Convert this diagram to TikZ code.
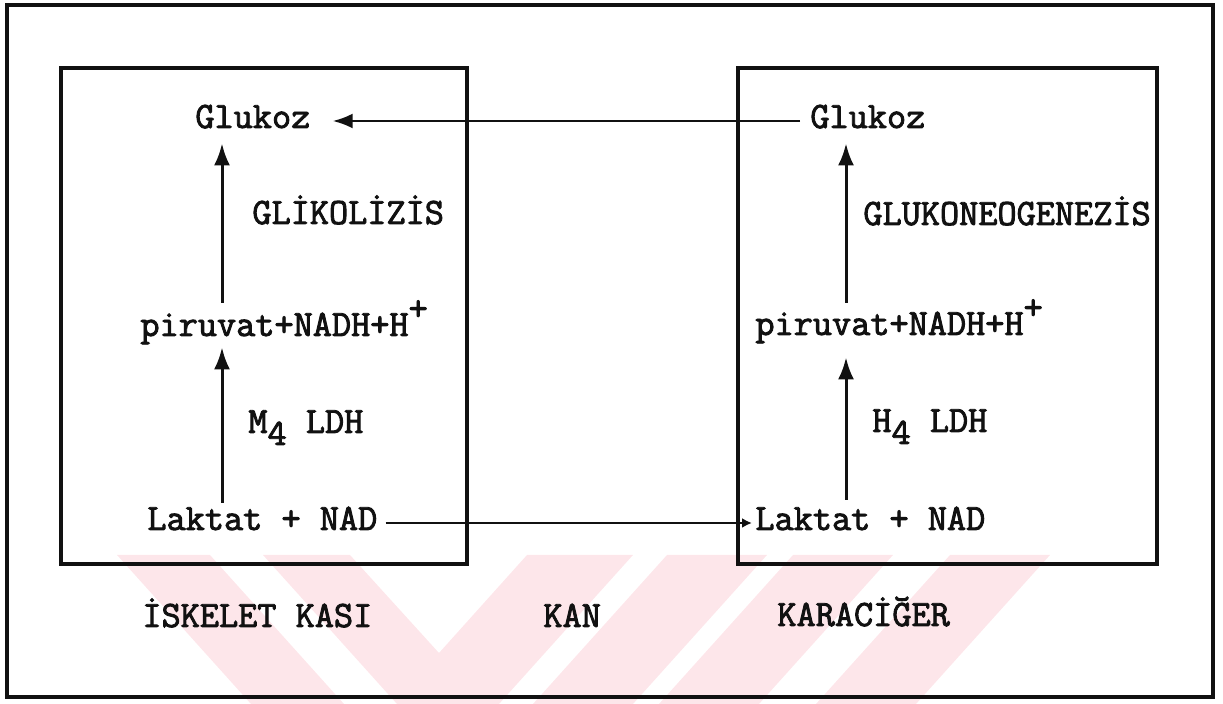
\documentclass[tikz,border=0pt]{standalone}
\usepackage{fontspec}
\usepackage{tikz}
\usetikzlibrary{arrows.meta,positioning,calc}
\newfontfamily\daktilo{Latin Modern Mono}[FakeBold=2.4]
\definecolor{inkcol}{HTML}{111111}
\definecolor{wmcol}{HTML}{FDE6EA}
\newcommand{\ustyaz}[1]{\raisebox{8pt}{#1}}
\newcommand{\altyaz}[1]{\raisebox{-6pt}{#1}}
\tikzset{
  yazi/.style={font=\daktilo\fontsize{18.6}{20}\selectfont,text=inkcol,
    inner sep=0pt,text height=9pt,text depth=2pt,anchor=base west},
  kutu/.style={draw=inkcol,line width=1.6pt},
  ok/.style={draw=inkcol,line width=1.5pt,-{Latex[length=11pt,width=8pt]}},
  yanok/.style={draw=inkcol,line width=1.2pt,-{Latex[length=10pt,width=7.5pt]}},
  kucukok/.style={draw=inkcol,line width=1.2pt,-{Latex[length=5pt,width=5pt]}}
}

\begin{document}
\begin{tikzpicture}[x=0.5pt,y=-0.5pt]
  \useasboundingbox (0,0) rectangle (1223,704);
  % filigran
  \begin{scope}
    \clip (0,555) rectangle (1223,704);
    \fill[wmcol] (117,555) -- (210,555) -- (344,704) -- (251,704) -- cycle;
    \fill[wmcol] (263,555) -- (350,555) -- (439,653) -- (527,555) -- (633,555)
      -- (499,704) -- (397,704) -- cycle;
    \foreach \a in {667,793,950}
      \fill[wmcol] (\a,555) -- ++(100,0) -- ++(-134,149) -- ++(-100,0) -- cycle;
  \end{scope}

  \draw[kutu] (7,5) rectangle (1213,697);
  \draw[kutu] (61,68) rectangle (467,564);
  \draw[kutu] (738,68) rectangle (1157,564);

  % iskelet kasi
  \node[yazi] (glukozL) at (195,128) {Glukoz};
  \node[yazi] (glikoliz) at (252,224) {GLİKOLİZİS};
  \node[yazi] (piruvatL) at (140,336) {piruvat+NADH+H\ustyaz{+}};
  \node[yazi] (enzimL) at (248,433) {M\altyaz{4} LDH};
  \node[yazi] (laktatL) at (147,530) {Laktat + NAD};
  % karaciger
  \node[yazi] (glukozR) at (810,128) {Glukoz};
  \node[yazi] (glukoneo) at (863,225) {GLUKONEOGENEZİS};
  \node[yazi] (piruvatR) at (755,335) {piruvat+NADH+H\ustyaz{+}};
  \node[yazi] (enzimR) at (872,432) {H\altyaz{4} LDH};
  \node[yazi] (laktatR) at (755,530) {Laktat + NAD};

  \node[yazi] (kas) at (142,627) {İSKELET KASI};
  \node[yazi] (kan) at (543,627) {KAN};
  \node[yazi] (karaciger) at (777,626) {KARACİĞER};

  \coordinate (solhat) at (222,0);
  \coordinate (saghat) at (846,0);
  \draw[ok,shorten <=4.5pt,shorten >=3.5pt] (laktatL.north -| solhat) -- (piruvatL.south -| solhat);
  \draw[ok,shorten <=7.5pt,shorten >=5.5pt] (piruvatL.north -| solhat) -- (glukozL.south -| solhat);
  \draw[ok,shorten <=6pt,shorten >=9pt] (laktatR.north -| saghat) -- (piruvatR.south -| saghat);
  \draw[ok,shorten <=7pt,shorten >=5.5pt] (piruvatR.north -| saghat) -- (glukozR.south -| saghat);

  \draw[yanok,shorten <=5pt,shorten >=11pt] (glukozR.west) -- (glukozL.east);
  \draw[kucukok,shorten <=4pt,shorten >=1.5pt] (laktatL.east) -- (laktatR.west);
\end{tikzpicture}
\end{document}
